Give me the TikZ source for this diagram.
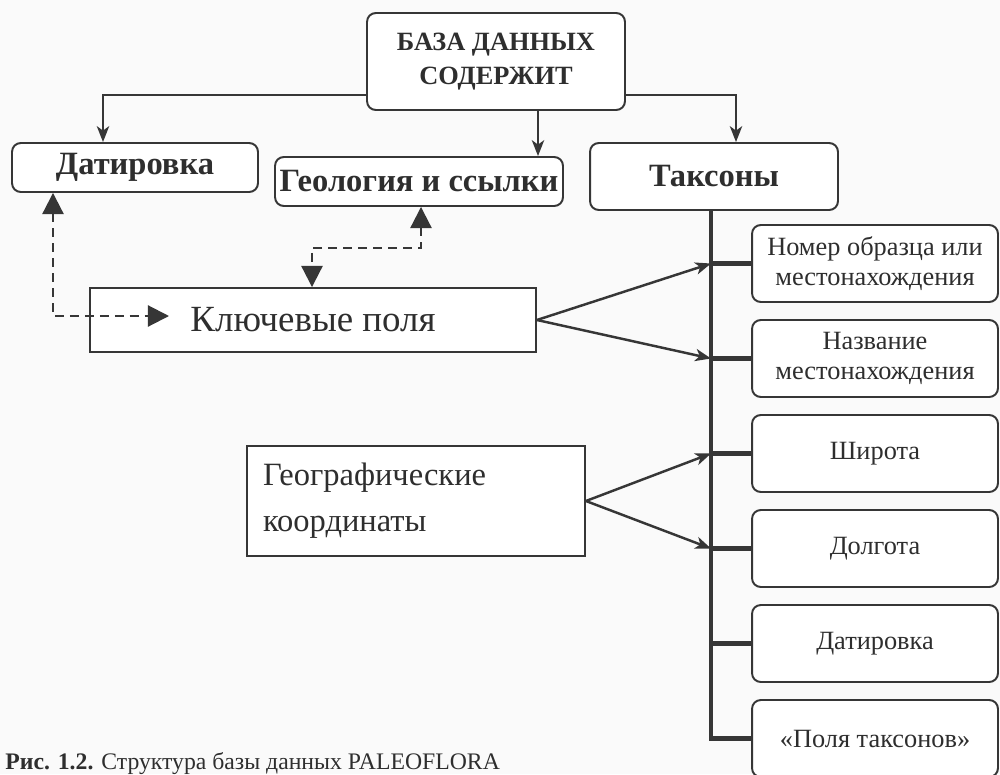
\documentclass[tikz,border=0pt]{standalone}
\usepackage{fontspec}
\setmainfont{Liberation Serif}
\usetikzlibrary{arrows.meta,calc}
\definecolor{ink}{HTML}{363636}
\definecolor{txt}{HTML}{2E2E2E}
\definecolor{bg}{HTML}{FAFAFA}
\begin{document}
\begin{tikzpicture}[x=0.02cm,y=-0.02cm,
  rbox/.style={draw=ink, line width=1.1pt, rounded corners=5pt, fill=white, inner sep=0pt, align=center, text=txt},
  sbox/.style={draw=ink, line width=1.1pt, fill=white, inner sep=0pt, text=txt},
  arr/.style={draw=ink, line width=1.4pt, -{Stealth[length=9pt,width=7pt,inset=2.5pt]}},
  trunkline/.style={draw=ink, line width=2.8pt},
  dsh/.style={draw=ink, line width=1.2pt, dash pattern=on 5pt off 3.5pt, {Triangle[length=12pt,width=12pt]}-{Triangle[length=12pt,width=12pt]}},
  bigbold/.style={font=\fontsize{18.5}{21}\selectfont\bfseries},
  small/.style={font=\fontsize{15}{17}\selectfont}
]
\fill[bg] (0,0) rectangle (1000,774);
\clip (0,0) rectangle (1000,774);

% main boxes
\node[rbox, minimum width=5.16cm, minimum height=1.94cm, font=\fontsize{15}{19.5}\selectfont\bfseries] (top) at (496,61.5) {БАЗА ДАННЫХ\\СОДЕРЖИТ};
\node[rbox, bigbold, minimum width=4.92cm, minimum height=0.98cm] (dat) at (135,167.5) {Датировка};
\node[rbox, bigbold, minimum width=5.76cm, minimum height=0.98cm] (geo) at (419,181.5) {Геология и ссылки};
\node[rbox, bigbold, minimum width=4.96cm, minimum height=1.34cm] (tax) at (714,176.5) {Таксоны};
\node[sbox, minimum width=8.92cm, minimum height=1.28cm, font=\fontsize{21}{24}\selectfont] (key) at (313,320) {Ключевые поля};
\node[sbox, minimum width=6.76cm, minimum height=2.2cm, text width=6.12cm, align=left, inner xsep=0.32cm, font=\fontsize{18.5}{26}\selectfont] (geog) at (416,501) {Географические\\координаты};

% right boxes
\node[rbox, small, minimum width=4.92cm, minimum height=1.54cm] (r1) at (875,263.5) {Номер образца или\\местонахождения};
\node[rbox, small, minimum width=4.92cm, minimum height=1.54cm] (r2) at (875,358.5) {Название\\местонахождения};
\node[rbox, small, minimum width=4.92cm, minimum height=1.54cm] (r3) at (875,453.5) {Широта};
\node[rbox, small, minimum width=4.92cm, minimum height=1.54cm] (r4) at (875,548.5) {Долгота};
\node[rbox, small, minimum width=4.92cm, minimum height=1.54cm] (r5) at (875,643.5) {Датировка};
\node[rbox, small, minimum width=4.92cm, minimum height=1.54cm] (r6) at (875,738.5) {«Поля таксонов»};

% helper coordinates
\coordinate (ly) at (0,95);
\coordinate (dx) at (103,0);
\coordinate (mx) at (538,0);
\coordinate (tx) at (736,0);
\coordinate (trunkx) at (711,0);
\coordinate (dl) at (53,0);
\coordinate (kp) at (169,316);
\coordinate (gx) at (421,0);
\coordinate (dy) at (0,248);
\coordinate (kx) at (312,0);

% top connectors
\draw[arr] (top.west |- ly) -| (dat.north -| dx);
\draw[arr] (top.south -| mx) -- (geo.north -| mx);
\draw[arr] (top.east |- ly) -| (tax.north -| tx);

% trunk and stubs
\draw[trunkline] (tax.south -| trunkx) |- (r6.west);
\foreach \i in {1,...,5} { \draw[trunkline] (trunkx |- r\i.west) -- (r\i.west); }

% arrows to trunk
\draw[arr] (key.east) -- (trunkx |- r1.west);
\draw[arr] (key.east) -- (trunkx |- r2.west);
\draw[arr] (geog.east) -- (trunkx |- r3.west);
\draw[arr] (geog.east) -- (trunkx |- r4.west);

% dashed links
\draw[dsh] (dat.south -| dl) |- (kp);
\draw[dsh] (geo.south -| gx) -- (gx |- dy) -| (key.north -| kx);

% caption
\node[anchor=base west, inner sep=0pt, text=txt, font=\fontsize{13.5}{16}\selectfont] (cap) at (5,769) {\textbf{Рис. 1.2.} Структура базы данных PALEOFLORA};
\end{tikzpicture}
\end{document}
